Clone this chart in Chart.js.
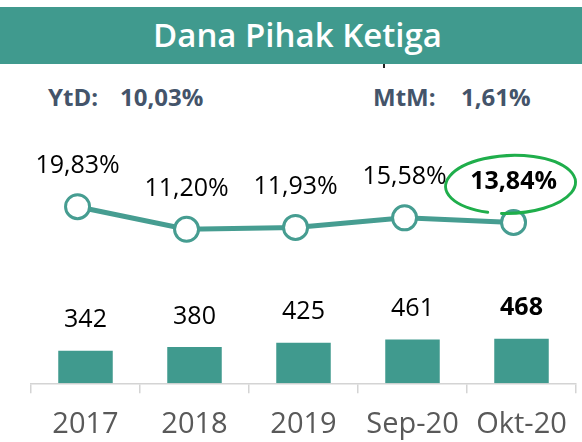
<!DOCTYPE html>
<html>
<head>
<meta charset="utf-8">
<script src="https://cdn.jsdelivr.net/npm/chart.js@4.4.1/dist/chart.umd.min.js"></script>
<style>
  html, body { margin: 0; padding: 0; background: #fff; }
  #wrap { position: relative; width: 582px; height: 442px; overflow: hidden; font-family: "Open Sans", sans-serif; }
  #banner { position: absolute; left: 0; top: 7px; width: 582px; height: 57px; background: #409a8e; }
  #title { position: absolute; left: 0; width: 595px; top: 6px; height: 57px; line-height: 57px; text-align: center; color: #fff; font-size: 33px; font-weight: 600; }
  .stat { position: absolute; top: 80px; font-size: 24px; font-weight: 700; color: #44546a; white-space: nowrap; }
  #mark { position: absolute; left: 383px; top: 64px; width: 2px; height: 4px; background: #222; }
  canvas { position: absolute; left: 0; top: 0; }
</style>
</head>
<body>
<div id="wrap">
  <div id="banner"></div>
  <div id="title">Dana Pihak Ketiga</div>
  <div id="mark"></div>
  <div class="stat" style="left:48px">YtD:</div>
  <div class="stat" style="left:120px">10,03%</div>
  <div class="stat" style="left:373px">MtM:</div>
  <div class="stat" style="left:461px">1,61%</div>
  <canvas id="chart" width="582" height="442"></canvas>
</div>
<script>
// values
const categories = ['2017', '2018', '2019', 'Sep-20', 'Okt-20'];
const deposits = [342, 380, 425, 461, 468];          // bars (Rp T)
const growth = [19.83, 11.20, 11.93, 15.58, 13.84];  // line (% yoy)
const depositLabels = ['342', '380', '425', '461', '468'];
const growthLabels = ['19,83%', '11,20%', '11,93%', '15,58%', '13,84%'];

const teal = '#409a8e';

// draws the value labels and the hand-drawn circle on the last point
const labelPlugin = {
  id: 'valueLabels',
  afterDatasetsDraw(chart) {
    const ctx = chart.ctx;
    const last = categories.length - 1;
    ctx.save();
    ctx.fillStyle = '#000';
    ctx.textAlign = 'center';
    ctx.textBaseline = 'alphabetic';

    chart.getDatasetMeta(1).data.forEach((bar, i) => {
      ctx.font = (i === last ? '700 ' : '400 ') + '25px "Open Sans"';
      ctx.fillText(depositLabels[i], bar.x, bar.y - 23.5);
    });

    const pts = chart.getDatasetMeta(0).data;
    pts.forEach((pt, i) => {
      ctx.font = (i === last ? '700 ' : '400 ') + '25px "Open Sans"';
      ctx.fillText(growthLabels[i], pt.x, pt.y - 33.5);
    });

    // green marker ellipse round the latest growth figure
    const p = pts[last];
    ctx.strokeStyle = '#1fae4b';
    ctx.lineWidth = 3;
    ctx.lineCap = 'round';
    ctx.beginPath();
    ctx.ellipse(p.x - 3, p.y - 38, 65, 29, -0.04, Math.PI * 0.62, Math.PI * 2.55);
    ctx.stroke();
    ctx.restore();
  }
};

new Chart(document.getElementById('chart'), {
  type: 'bar',
  data: {
    labels: categories,
    datasets: [
      {
        type: 'line',
        data: growth.map((v, i) => ({ x: i, y: v })),
        xAxisID: 'xl',
        yAxisID: 'yl',
        borderColor: '#469d91',
        borderWidth: 5,
        pointRadius: 12,
        pointBorderWidth: 3,
        pointBackgroundColor: '#fff',
        pointBorderColor: '#469d91',
        tension: 0,
        order: 0
      },
      {
        type: 'bar',
        data: deposits,
        xAxisID: 'x',
        yAxisID: 'y',
        backgroundColor: teal,
        grouped: false,
        categoryPercentage: 0.5,
        barPercentage: 1.0,
        order: 1
      }
    ]
  },
  options: {
    responsive: false,
    animation: false,
    events: [],
    layout: { autoPadding: false, padding: { top: 130, left: 31, right: 6, bottom: 0 } },
    plugins: { legend: { display: false }, tooltip: { enabled: false }, title: { display: false } },
    scales: {
      x: {
        type: 'category',
        position: 'bottom',
        offset: true,
        grid: { offset: true, drawOnChartArea: false, drawTicks: true, tickLength: 10, color: '#d4d4d4', lineWidth: 1.5 },
        border: { display: true, color: '#d4d4d4', width: 1.5 },
        ticks: { color: '#595959', font: { family: 'Open Sans', size: 29 }, padding: 14, maxRotation: 0, autoSkip: false },
        afterFit(scale) {
          scale.height = 58.7;
          // labels fit inside their categories, so no extra side padding
          scale.paddingLeft = 0;
          scale.paddingRight = 0;
        }
      },
      xl: { type: 'linear', display: false, offset: false, grid: { offset: false }, min: -0.427, max: 4.573 },
      y: { display: false, min: 0, max: 2660 },
      yl: { display: false, min: -47.57, max: 49.1 }
    }
  },
  plugins: [labelPlugin]
});
</script>
</body>
</html>
